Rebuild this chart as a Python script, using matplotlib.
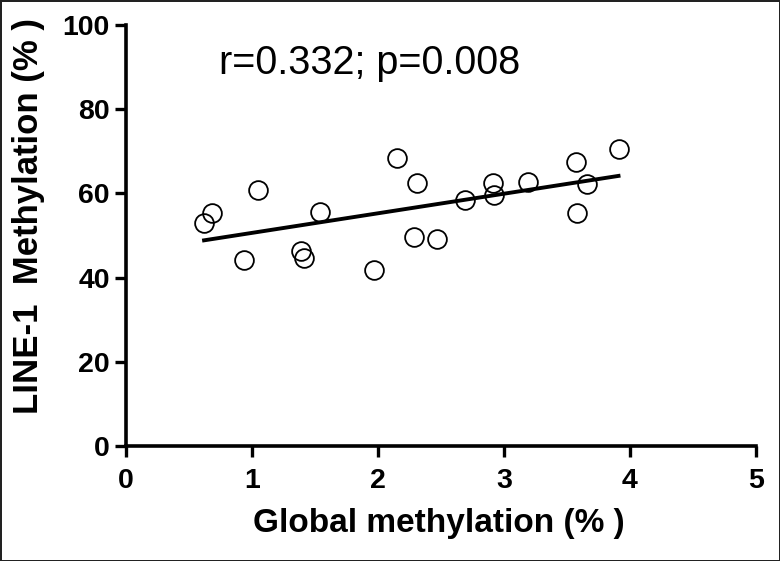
import numpy as np
import matplotlib.pyplot as plt

# Data
global_meth = [0.62, 0.68, 0.94, 1.05, 1.39, 1.41, 1.54, 1.97, 2.15, 2.31,
               2.29, 2.47, 2.69, 2.91, 2.92, 3.19, 3.57, 3.58, 3.66, 3.91]
line1_meth = [53.0, 55.3, 44.3, 60.7, 46.4, 44.7, 55.7, 41.7, 68.4, 62.4,
              49.7, 49.1, 58.5, 62.4, 59.6, 62.6, 67.4, 55.3, 62.2, 70.5]
x_ticks = [0, 1, 2, 3, 4, 5]
y_ticks = [0, 20, 40, 60, 80, 100]
stats_text = "r=0.332; p=0.008"

x = np.array(global_meth)
y = np.array(line1_meth)

plt.rcParams['font.family'] = ['Liberation Sans', 'DejaVu Sans']

fig = plt.figure(figsize=(7.8, 5.61), dpi=100)
fig.patch.set_edgecolor('#222222')
fig.patch.set_linewidth(2)
ax = fig.add_axes([0.1615, 0.205, 0.8075, 0.7504])

# linear regression line across the data range
slope, intercept = np.polyfit(x, y, 1)
xx = np.array([x.min(), x.max()])
ax.plot(xx, slope * xx + intercept, color='black', linewidth=2.8, zorder=2)

ax.plot(x, y, linestyle='none', marker='o', markersize=13.5,
        markerfacecolor='none', markeredgecolor='black', markeredgewidth=1.3, zorder=3)

ax.set_xlim(0, 5)
ax.set_ylim(0, 100)
ax.set_xticks(x_ticks)
ax.set_yticks(y_ticks)

for side in ['top', 'right']:
    ax.spines[side].set_visible(False)
for side in ['left', 'bottom']:
    ax.spines[side].set_linewidth(2.6)

ax.tick_params(axis='both', direction='out', length=8, width=2.4, labelsize=20.5)
ax.tick_params(axis='x', pad=8)
ax.tick_params(axis='y', pad=3.5)
for lbl in ax.get_xticklabels() + ax.get_yticklabels():
    lbl.set_fontweight('bold')

ax.set_xlabel('Global methylation (% )', fontsize=24, fontweight='bold')
ax.xaxis.label.set_verticalalignment('center')
ax.xaxis.set_label_coords(0.497, -0.183)

ax.set_ylabel('LINE-1  Methylation (% )', fontsize=25, fontweight='bold')
ax.yaxis.label.set_verticalalignment('center')
ax.yaxis.set_label_coords(-0.155, 0.546)

ax.text(0.74, 91, stats_text, fontsize=28.5, ha='left', va='center')

fig.savefig('out.png', dpi=100)
